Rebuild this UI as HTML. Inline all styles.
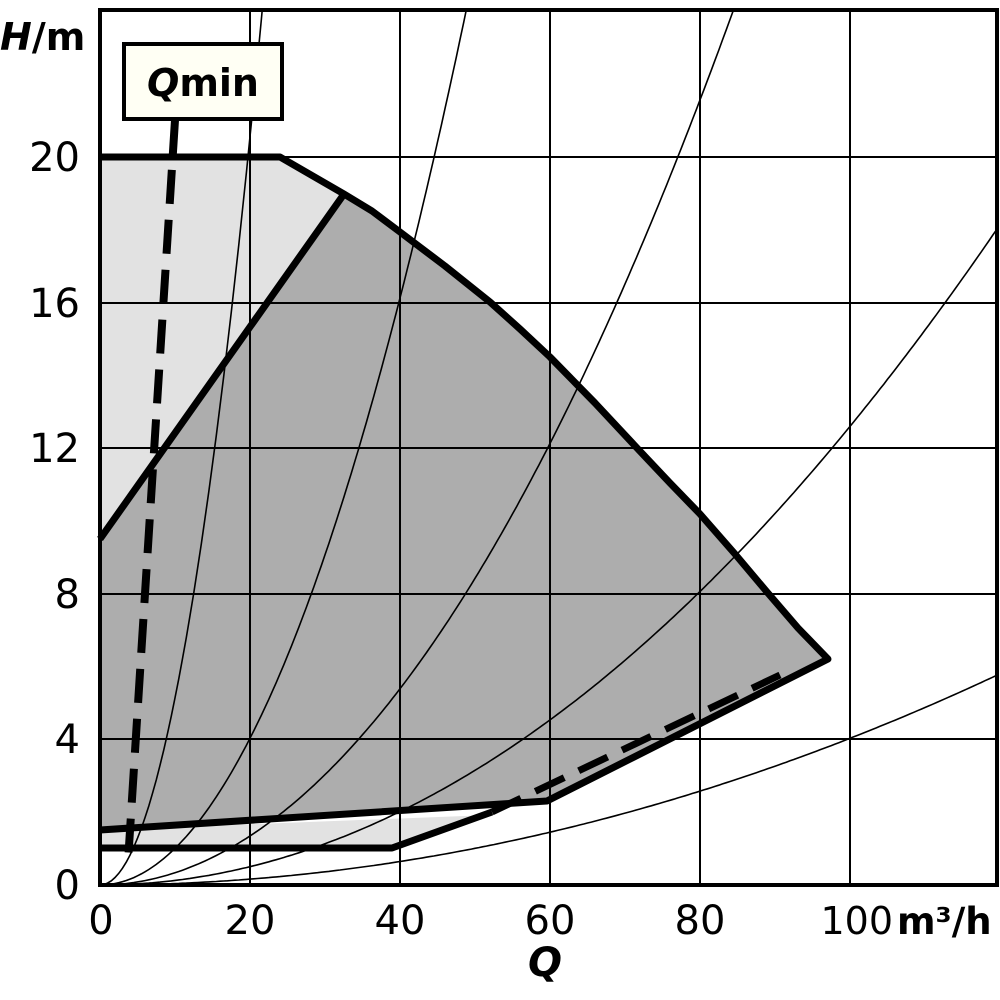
<!DOCTYPE html>
<html><head><meta charset="utf-8"><style>
html,body{margin:0;padding:0;background:#fff}
svg{display:block}
text{font-family:"DejaVu Sans","Liberation Sans",sans-serif;fill:#000}
</style></head><body>
<svg width="1000" height="1000" viewBox="0 0 1000 1000">
<defs><clipPath id="c"><rect x="100" y="10" width="897" height="875"/></clipPath></defs>
<polygon points="100,157 280,157 344,195 100,539" fill="#e2e2e2"/>
<polygon points="100,830 100,848 392,848 490,815" fill="#e2e2e2"/>
<polygon points="100,539 344,194 372,211 400,232 445,266 490,302 520,329 550,357 595,403 637,448 670,483 700,514 735,554 767,592 798,628 828,659 547,801 100,830" fill="#adadad"/>
<g stroke="#000" stroke-width="2" fill="none">
<line x1="250" y1="10" x2="250" y2="885"/><line x1="400" y1="10" x2="400" y2="885"/>
<line x1="550" y1="10" x2="550" y2="885"/><line x1="700" y1="10" x2="700" y2="885"/>
<line x1="850" y1="10" x2="850" y2="885"/>
<line x1="100" y1="157" x2="997" y2="157"/><line x1="100" y1="303" x2="997" y2="303"/>
<line x1="100" y1="448" x2="997" y2="448"/><line x1="100" y1="594" x2="997" y2="594"/>
<line x1="100" y1="739" x2="997" y2="739"/>
</g>
<g id="curves" clip-path="url(#c)" stroke="#000" stroke-width="1.6" fill="none"></g>
<script>
(function(){
var ks=[0.0514,0.01008,0.00337,0.00126,0.000403];
var g=document.getElementById('curves');var ns='http://www.w3.org/2000/svg';
ks.forEach(function(k){var d='';for(var q=0;q<=120;q+=0.5){var h=k*q*q;var x=100+q*7.5,y=885-h*36.4;d+=(q==0?'M':'L')+x.toFixed(1)+','+y.toFixed(1);if(h>25)break;}
var p=document.createElementNS(ns,'path');p.setAttribute('d',d);g.appendChild(p);});
})();
</script>
<g stroke="#000" stroke-width="7" fill="none" stroke-linejoin="round">
<polyline points="100,157 280,157 344,194 372,211 400,232 445,266 490,302 520,329 550,357 595,403 637,448 670,483 700,514 735,554 767,592 798,628 828,659 547,801 100,830"/>
<line x1="100" y1="539" x2="344" y2="194"/>
<path d="M100,848 L392,848 L492,812"/>
</g>
<path d="M492,812 L780,675" stroke="#000" stroke-width="7" stroke-dasharray="32,16" fill="none"/>
<path d="M175,120 L128,862" stroke="#000" stroke-width="8" stroke-dasharray="34,16" fill="none"/>
<rect x="100" y="10" width="897" height="875" fill="none" stroke="#000" stroke-width="4"/>
<rect x="124" y="44" width="158" height="75" fill="#fffff4" stroke="#000" stroke-width="4"/>
<text x="203" y="96" font-size="38" font-weight="bold" text-anchor="middle"><tspan font-style="italic">Q</tspan>min</text>
<text x="0" y="50" font-size="38" font-weight="bold"><tspan font-style="italic">H</tspan>/m</text>
<g font-size="40" text-anchor="end">
<text x="80" y="171">20</text><text x="80" y="317">16</text><text x="80" y="462">12</text>
<text x="80" y="608">8</text><text x="80" y="753">4</text><text x="80" y="899">0</text>
</g>
<g font-size="40" text-anchor="middle">
<text x="101" y="934">0</text><text x="250" y="934">20</text><text x="400" y="934">40</text>
<text x="550" y="934">60</text><text x="700" y="934">80</text>
</g>
<text x="893" y="934" font-size="38" text-anchor="end">100</text>
<text x="897" y="934" font-size="37" font-weight="bold">m³/h</text>
<text x="545" y="976" font-size="40" font-weight="bold" font-style="italic" text-anchor="middle">Q</text>
</svg>
</body></html>
